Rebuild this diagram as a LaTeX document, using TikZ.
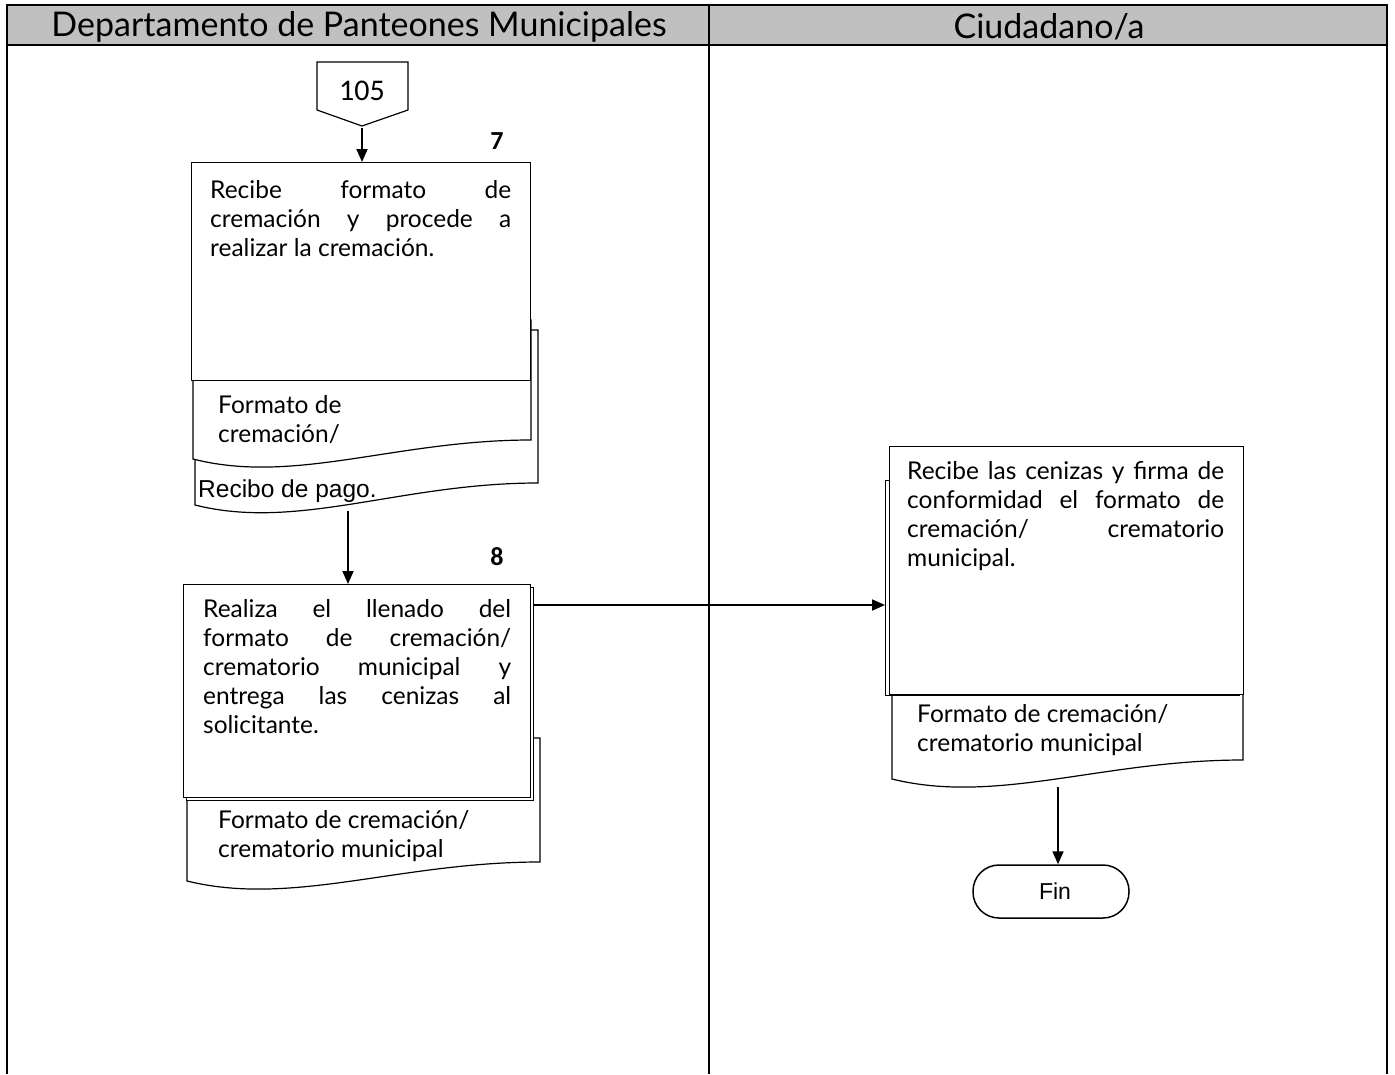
\documentclass[tikz,border=0pt]{standalone}
\usepackage{fontspec}
\setmainfont{Lato}
\newfontfamily\arialfont{Liberation Sans}
\newfontfamily\calibrifont{Carlito}
\usepackage{tikz}
\usetikzlibrary{arrows.meta, positioning}

\definecolor{headgray}{RGB}{192,192,192}

% document sheet with a wavy bottom: xL, xR, top, bottom at left, bottom at right
\newcommand{\docsheet}[5]{%
  \filldraw[sheet] (#1,#3) -- (#1,#4)
    .. controls ({#1+0.3*(#2-#1)},{#4+26}) and ({#1+0.6*(#2-#1)},{#5}) .. (#2,#5)
    -- (#2,#3) -- cycle;
}

\begin{document}
\begin{tikzpicture}[x=1pt, y=-1pt,
    lane/.style={line width=2.6pt},
    sheet/.style={draw=black, fill=white, line width=1.2pt},
    procbox/.style={draw=black, fill=white, line width=1.2pt, inner sep=0pt, anchor=north west},
    bodytext/.style={font=\fontsize{24.5}{29}\selectfont, inner sep=0pt, anchor=north west},
    stepno/.style={font=\calibrifont\bfseries\fontsize{26}{30}\selectfont},
    flow/.style={line width=1.8pt, -{Triangle[length=13pt, width=11pt]}}]
    \useasboundingbox (0,0) rectangle (1395,1074);

    % Lanes and headings
    \fill[headgray] (7,5) rectangle (1387,45);
    \draw[lane] (7,1074) -- (7,5) -- (1387,5) -- (1387,1074);
    \draw[lane] (7,45) -- (1387,45);
    \draw[lane] (709,5) -- (709,1074);
    \node[font=\fontsize{34}{38}\selectfont] (hdep) at (359,27) {Departamento de Panteones Municipales};
    \node[font=\fontsize{34}{38}\selectfont] (hciu) at (1049,27) {Ciudadano/a};

    % Off-page connector
    \draw[line width=1.2pt, fill=white] (317,62) -- (408,62) -- (408,110) -- (362,126) -- (317,110) -- cycle;
    \node[font=\calibrifont\fontsize{30}{34}\selectfont] (p105) at (362,91) {105};
    \coordinate (p105tip) at (362,128);

    % Step 7
    \docsheet{195}{538}{330}{505}{483}
    \node[font=\arialfont\fontsize{24.5}{28}\selectfont, inner sep=0pt, anchor=base west] (recibo) at (198,497) {Recibo de pago.};
    \coordinate (docB) at (348,511);
    \docsheet{193}{531}{320}{459}{440}
    \node[bodytext, align=left] (fmtA) at (218,395) {Formato de\\cremación/};
    \node[procbox, minimum width=339pt, minimum height=218pt] (b7) at (191,162) {};
    \node[bodytext, text width=301pt, align=justify] (t7) at (210,180)
        {Recibe formato de\linebreak cremación y procede a\linebreak realizar la cremación.};
    \node[stepno] (n7) at (497,141) {7};

    % Step 8
    \docsheet{187}{540}{738}{881}{862}
    \node[bodytext, align=left] (fmtC) at (218,810) {Formato de cremación/\\crematorio municipal};
    \node[procbox, minimum width=347pt, minimum height=213pt] (b8sh) at (186,587) {};
    \node[procbox, minimum width=347pt, minimum height=213pt] (b8) at (183,584) {};
    \node[bodytext, text width=308pt, align=justify] (t8) at (203,599)
        {Realiza el llenado del\linebreak formato de cremación/\linebreak crematorio municipal y\linebreak entrega las cenizas al\linebreak solicitante.};
    \node[stepno] (n8) at (497,557) {8};
    \coordinate (out8) at (533,605);

    % Step 9
    \docsheet{892}{1243}{694}{779}{760}
    \node[bodytext, align=left] (fmtD) at (917,704) {Formato de cremación/\\crematorio municipal};
    \coordinate (docD) at (1058,787);
    \node[procbox, minimum width=354pt, minimum height=215pt] (b9sh) at (885,480) {};
    \node[procbox, minimum width=354pt, minimum height=248pt] (b9) at (889,446) {};
    \node[bodytext, text width=317pt, align=justify] (t9) at (907,461)
        {Recibe las cenizas y firma de\linebreak conformidad el formato de\linebreak cremación/ crematorio\linebreak municipal.};
    \coordinate (in9) at (885,605);

    % End
    \node[draw, line width=1.5pt, rounded corners=26pt, minimum width=156pt, minimum height=53pt,
          font=\arialfont\fontsize{23}{26}\selectfont] (fin) at (1051,891.5) {\hspace*{8pt}Fin};

    % Connectors
    \draw[flow] (p105tip) -- (b7.north -| p105tip);
    \draw[flow] (docB) -- (b8.north -| docB);
    \draw[flow] (out8) -- (in9);
    \draw[flow] (docD) -- (fin.north -| docD);
\end{tikzpicture}
\end{document}
